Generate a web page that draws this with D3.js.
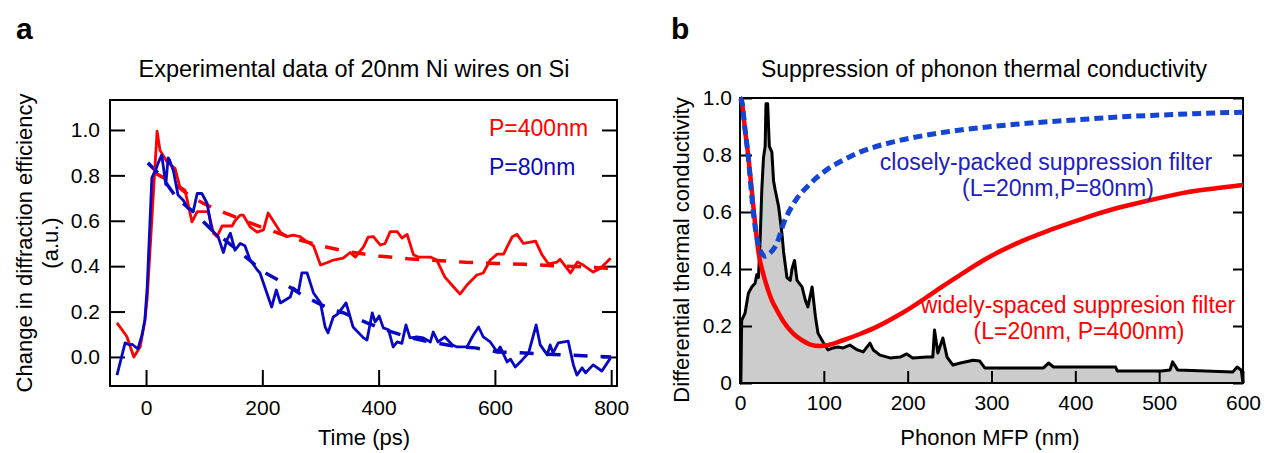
<!DOCTYPE html>
<html>
<head>
<meta charset="utf-8">
<script src="https://cdn.jsdelivr.net/npm/d3@7"></script>
<style>
  body { margin: 0; background: #fff; }
  text { font-family: "Liberation Sans", Arial, sans-serif; }
</style>
</head>
<body>
<div id="chart"></div>
<script>
var width = 1268,
    height = 453;

// panel a : time (ps) vs change in diffraction efficiency
var red400 = [[-50,0.15],[-33,0.09],[-21,0.0],[-10,0.045],[-2,0.16],[2,0.26],[19,0.995],[24,0.91],[36,0.86],[50,0.83],[58,0.75],[67,0.735],[79,0.595],[88,0.64],[107,0.64],[116,0.545],[122,0.53],[131,0.577],[148,0.577],[153,0.6],[162,0.625],[167,0.625],[179,0.573],[191,0.55],[202,0.56],[210,0.634],[231,0.55],[242,0.53],[253,0.537],[265,0.53],[277,0.507],[288,0.49],[300,0.405],[311,0.415],[322,0.427],[339,0.435],[351,0.46],[360,0.44],[374,0.485],[382,0.528],[391,0.53],[403,0.493],[411,0.5],[420,0.552],[432,0.552],[440,0.524],[449,0.54],[460,0.45],[468,0.44],[489,0.44],[500,0.427],[514,0.352],[529,0.308],[540,0.277],[552,0.317],[569,0.361],[580,0.37],[592,0.427],[604,0.453],[615,0.453],[621,0.485],[630,0.53],[638,0.54],[649,0.5],[661,0.506],[670,0.51],[681,0.45],[692,0.41],[707,0.418],[712,0.43],[730,0.37],[742,0.418],[752,0.405],[769,0.374],[781,0.39],[799,0.435]];
var red400Fit = [[12,0.815],[30,0.79],[50,0.76],[75,0.71],[100,0.675],[125,0.645],[150,0.62],[175,0.595],[200,0.57],[250,0.525],[300,0.49],[350,0.462],[400,0.445],[450,0.433],[500,0.425],[550,0.417],[600,0.412],[650,0.408],[700,0.402],[750,0.397],[800,0.39]];
var blue80 = [[-50,-0.08],[-36,0.062],[-28,0.053],[-24,0.056],[-14,0.035],[-7,0.097],[-2,0.163],[2,0.31],[10,0.79],[16,0.82],[21,0.855],[27,0.89],[31,0.815],[34,0.76],[38,0.877],[40,0.87],[47,0.82],[55,0.713],[64,0.69],[72,0.655],[81,0.64],[88,0.72],[96,0.72],[105,0.677],[113,0.56],[124,0.53],[133,0.46],[139,0.515],[145,0.545],[153,0.47],[162,0.5],[170,0.49],[179,0.427],[191,0.384],[196,0.37],[202,0.325],[216,0.22],[224,0.295],[231,0.238],[248,0.264],[253,0.304],[262,0.286],[268,0.37],[277,0.37],[288,0.282],[300,0.238],[308,0.132],[313,0.106],[322,0.176],[330,0.19],[344,0.238],[356,0.132],[374,0.084],[380,0.075],[389,0.194],[394,0.154],[401,0.18],[408,0.128],[417,0.12],[425,0.044],[432,0.066],[440,0.06],[447,0.141],[454,0.084],[466,0.088],[477,0.084],[489,0.066],[494,0.11],[502,0.066],[514,0.088],[527,0.053],[535,0.044],[552,0.044],[563,0.097],[572,0.132],[580,0.088],[592,0.066],[604,0.022],[609,0.044],[621,-0.022],[627,-0.01],[635,-0.044],[647,-0.013],[658,0.018],[671,0.141],[678,0.053],[690,0.009],[695,0.053],[700,0.018],[709,0.062],[726,0.07],[735,-0.035],[741,-0.08],[750,-0.048],[756,-0.07],[769,-0.035],[784,-0.062],[799,-0.004]];
var blue80Fit = [[3,0.855],[25,0.8],[53,0.7],[81,0.64],[113,0.56],[136,0.515],[173,0.437],[202,0.375],[236,0.326],[268,0.273],[317,0.21],[339,0.195],[380,0.15],[411,0.12],[455,0.084],[489,0.066],[535,0.045],[566,0.04],[604,0.022],[644,0.018],[683,0.013],[721,0.009],[764,0.003],[800,0.0]];
var timeTicks = [0, 200, 400, 600, 800];
var effTicks = [0, 0.2, 0.4, 0.6, 0.8, 1.0];

// panel b : phonon MFP (nm)
var spectrum = [[0,0],[1,0],[2,0.22],[6,0.245],[10,0.315],[14,0.337],[18,0.35],[20,0.38],[22,0.37],[24,0.5],[26,0.677],[28,0.79],[30,0.83],[31,0.98],[33,0.98],[35,0.83],[38,0.81],[40,0.71],[42,0.677],[46,0.62],[50,0.525],[52,0.46],[56,0.37],[60,0.36],[62,0.4],[65,0.43],[68,0.36],[74,0.337],[78,0.29],[81,0.267],[86,0.337],[90,0.232],[93,0.175],[99,0.144],[105,0.116],[111,0.123],[117,0.126],[123,0.123],[131,0.133],[140,0.116],[147,0.109],[155,0.14],[159,0.116],[167,0.098],[179,0.088],[191,0.091],[199,0.102],[206,0.088],[223,0.091],[230,0.091],[232,0.186],[236,0.105],[242,0.158],[247,0.091],[254,0.063],[263,0.07],[278,0.08],[286,0.077],[292,0.053],[362,0.053],[368,0.07],[374,0.056],[448,0.056],[450,0.042],[503,0.042],[513,0.046],[516,0.074],[522,0.046],[588,0.039],[593,0.056],[598,0.045],[600,0]];
var wideFilter = [[0,1.0],[2,0.99],[6,0.888],[10,0.793],[14,0.677],[18,0.56],[22,0.46],[28,0.38],[32,0.34],[38,0.29],[44,0.256],[52,0.215],[63,0.175],[74,0.15],[84,0.135],[95,0.13],[105,0.133],[123,0.15],[143,0.172],[163,0.197],[183,0.228],[203,0.263],[222,0.3],[242,0.34],[263,0.38],[290,0.43],[330,0.49],[370,0.537],[410,0.578],[450,0.614],[490,0.642],[529,0.667],[570,0.684],[600,0.695]];
var closeFilter = [[0,1.0],[2,0.99],[6,0.89],[10,0.79],[13,0.69],[16,0.596],[19,0.53],[22,0.485],[26,0.455],[30,0.445],[36,0.456],[44,0.49],[52,0.56],[64,0.63],[84,0.7],[103,0.747],[123,0.782],[143,0.81],[183,0.846],[223,0.87],[263,0.888],[300,0.9],[350,0.913],[400,0.923],[450,0.933],[500,0.94],[550,0.946],[600,0.95]];
var mfpTicks = [0, 100, 200, 300, 400, 500, 600];
var condTicks = [0, 0.2, 0.4, 0.6, 0.8, 1.0];

var red = "#ff0000",
    blue = "#0808c4",
    dashBlue = "#1446d2";

var svg = d3.select("#chart").append("svg")
    .attr("width", width)
    .attr("height", height);

function axisStyle(g) {
  g.selectAll("path.domain").remove();
  g.selectAll("line").attr("stroke", "#000").attr("stroke-width", 2);
  g.selectAll("text").style("font-size", "21px").attr("fill", "#000");
}

function frame(x0, x1, y0, y1) {
  svg.append("path")
      .attr("d", "M" + x0 + "," + y0 + "V" + y1 + "H" + x1 + "V" + y0 + "Z")
      .attr("fill", "none")
      .attr("stroke", "#000")
      .attr("stroke-width", 2);
}

// ---------- panel a ----------
var xa = d3.scaleLinear().domain([-62, 810]).range([110, 617]),
    ya = d3.scaleLinear().domain([-0.128, 1.132]).range([386, 100]);

var lineA = d3.line()
    .x(function(d) { return xa(d[0]); })
    .y(function(d) { return ya(d[1]); });

svg.append("g").attr("transform", "translate(110,0)")
    .call(d3.axisLeft(ya).tickValues(effTicks).tickSize(-15).tickPadding(10).tickFormat(d3.format(".1f")))
    .call(axisStyle);
svg.append("g").attr("transform", "translate(617,0)")
    .call(d3.axisRight(ya).tickValues(effTicks).tickSize(-15).tickFormat(""))
    .call(axisStyle);
svg.append("g").attr("transform", "translate(0,386)")
    .call(d3.axisBottom(xa).tickValues(timeTicks).tickSize(-16).tickPadding(14))
    .call(axisStyle);
frame(110, 617, 386, 100);

svg.append("path").datum(red400Fit)
    .attr("d", lineA).attr("fill", "none")
    .attr("stroke", red).attr("stroke-width", 3.5).attr("stroke-dasharray", "14,13");
svg.append("path").datum(blue80Fit)
    .attr("d", lineA).attr("fill", "none")
    .attr("stroke", blue).attr("stroke-width", 3.5).attr("stroke-dasharray", "14,13");
svg.append("path").datum(red400)
    .attr("d", lineA).attr("fill", "none")
    .attr("stroke", red).attr("stroke-width", 2.8).attr("stroke-linejoin", "round");
svg.append("path").datum(blue80)
    .attr("d", lineA).attr("fill", "none")
    .attr("stroke", blue).attr("stroke-width", 2.8).attr("stroke-linejoin", "round");

svg.append("text").attr("x", 489).attr("y", 136).attr("fill", red)
    .style("font-size", "23px").text("P=400nm");
svg.append("text").attr("x", 489).attr("y", 175).attr("fill", blue)
    .style("font-size", "23px").text("P=80nm");

svg.append("text").attr("x", 354).attr("y", 77).attr("text-anchor", "middle")
    .style("font-size", "23.5px").text("Experimental data of 20nm Ni wires on Si");
svg.append("text").attr("x", 364).attr("y", 445).attr("text-anchor", "middle")
    .style("font-size", "22px").text("Time (ps)");
svg.append("text").attr("transform", "translate(32,243)rotate(-90)").attr("text-anchor", "middle")
    .style("font-size", "22px").text("Change in diffraction efficiency");
svg.append("text").attr("transform", "translate(58,243)rotate(-90)").attr("text-anchor", "middle")
    .style("font-size", "22px").text("(a.u.)");
svg.append("text").attr("x", 16).attr("y", 39)
    .style("font-size", "30px").style("font-weight", "bold").text("a");

// ---------- panel b ----------
var xb = d3.scaleLinear().domain([0, 600]).range([740, 1243]),
    yb = d3.scaleLinear().domain([0, 1]).range([383, 98]);

var lineB = d3.line()
    .x(function(d) { return xb(d[0]); })
    .y(function(d) { return yb(d[1]); });
var smoothB = d3.line()
    .curve(d3.curveMonotoneX)
    .x(function(d) { return xb(d[0]); })
    .y(function(d) { return yb(d[1]); });
var areaB = d3.area()
    .x(function(d) { return xb(d[0]); })
    .y0(yb(0))
    .y1(function(d) { return yb(d[1]); });

svg.append("path").datum(spectrum).attr("d", areaB).attr("fill", "#cccccc");
svg.append("path").datum(spectrum)
    .attr("d", lineB).attr("fill", "none")
    .attr("stroke", "#000").attr("stroke-width", 3).attr("stroke-linejoin", "round");

svg.append("g").attr("transform", "translate(740,0)")
    .call(d3.axisLeft(yb).tickValues(condTicks).tickSize(-12).tickPadding(8)
      .tickFormat(function(d) { return d === 0 ? "0" : d3.format(".1f")(d); }))
    .call(axisStyle);
svg.append("g").attr("transform", "translate(1243,0)")
    .call(d3.axisRight(yb).tickValues(condTicks).tickSize(-10).tickFormat(""))
    .call(axisStyle);
svg.append("g").attr("transform", "translate(0,383)")
    .call(d3.axisBottom(xb).tickValues(mfpTicks).tickSize(-12).tickPadding(12))
    .call(axisStyle);
frame(740, 1243, 383, 98);

svg.append("path").datum(wideFilter)
    .attr("d", smoothB).attr("fill", "none")
    .attr("stroke", red).attr("stroke-width", 4.5);
svg.append("path").datum(closeFilter)
    .attr("d", smoothB).attr("fill", "none")
    .attr("stroke", dashBlue).attr("stroke-width", 5).attr("stroke-dasharray", "9,5");

svg.append("text").attr("x", 1046).attr("y", 170).attr("text-anchor", "middle").attr("fill", "#2020c0")
    .style("font-size", "23px").text("closely-packed suppression filter");
svg.append("text").attr("x", 1058).attr("y", 196).attr("text-anchor", "middle").attr("fill", "#2020c0")
    .style("font-size", "23px").text("(L=20nm,P=80nm)");
svg.append("text").attr("x", 1078).attr("y", 313).attr("text-anchor", "middle").attr("fill", red)
    .style("font-size", "23px").text("widely-spaced suppresion filter");
svg.append("text").attr("x", 1079).attr("y", 339).attr("text-anchor", "middle").attr("fill", red)
    .style("font-size", "23px").text("(L=20nm, P=400nm)");

svg.append("text").attr("x", 984).attr("y", 77).attr("text-anchor", "middle")
    .style("font-size", "23px").text("Suppression of phonon thermal conductivity");
svg.append("text").attr("x", 990).attr("y", 445).attr("text-anchor", "middle")
    .style("font-size", "22px").text("Phonon MFP (nm)");
svg.append("text").attr("transform", "translate(689,250)rotate(-90)").attr("text-anchor", "middle")
    .style("font-size", "22px").text("Differential thermal conductivity");
svg.append("text").attr("x", 671).attr("y", 39)
    .style("font-size", "30px").style("font-weight", "bold").text("b");
</script>
</body>
</html>
